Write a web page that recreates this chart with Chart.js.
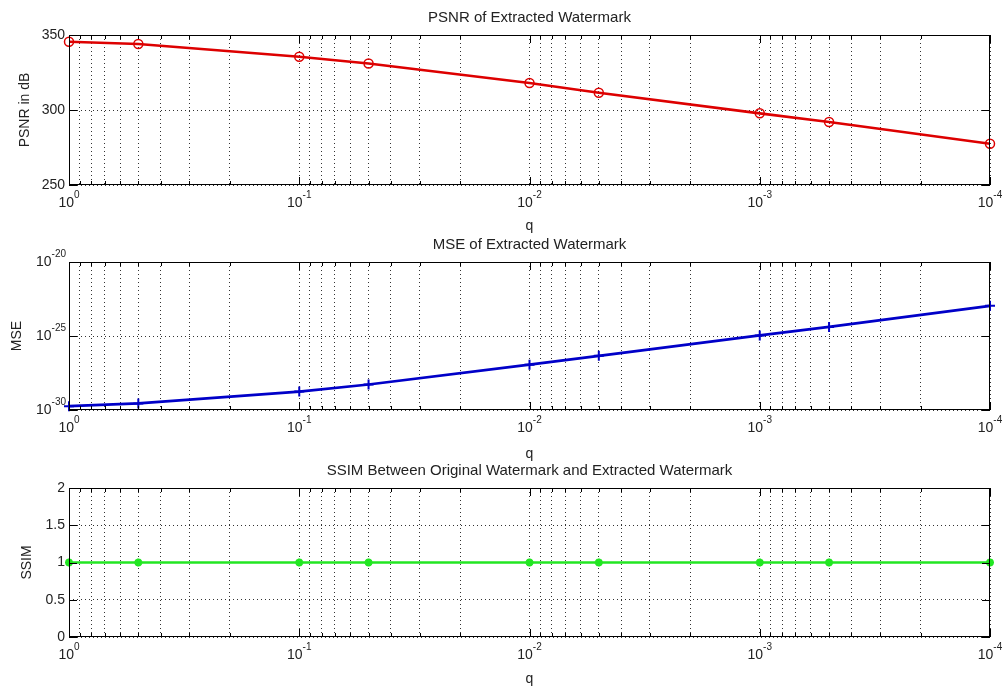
<!DOCTYPE html>
<html lang="en">
<head>
<meta charset="UTF-8">
<title>Watermark quality vs q</title>
<script src="https://cdn.jsdelivr.net/npm/chart.js"></script>
<style>
  body { margin: 0; background: #fff; }
  #wrap { position: relative; width: 1003px; height: 686px; }
  .panel { position: absolute; left: 0; width: 1003px; }
</style>
</head>
<body>
<div id="wrap">
  <div class="panel" style="top:0;height:235px"><canvas id="psnrChart"></canvas></div>
  <div class="panel" style="top:235px;height:228px"><canvas id="mseChart"></canvas></div>
  <div class="panel" style="top:463px;height:223px"><canvas id="ssimChart"></canvas></div>
</div>
<script>
// values
const qValues = [1, 0.5, 0.1, 0.05, 0.01, 0.005, 0.001, 0.0005, 0.0001];
const psnrValues = [345.5, 344, 335.5, 331, 318, 311.5, 297.8, 292, 277.5];
const mseValues = [1.8e-30, 2.8e-30, 1.75e-29, 5.3e-29, 1.15e-27, 4.6e-27, 1.1e-25, 4.1e-25, 1.1e-23];
const ssimValues = [1, 1, 1, 1, 1, 1, 1, 1, 1];
const xDecades = [0, -1, -2, -3, -4];      // q axis labelled 10^n
const mseDecades = [-30, -25, -20];        // MSE axis labelled 10^n

const FONT = 'Arial, "Liberation Sans", sans-serif';
const TEXT = '#222';
Chart.defaults.font.family = FONT;
Chart.defaults.color = TEXT;

// log ticks 1..9 x 10^n for the q axis (minor grid like matlab)
const xTicks = [];
xDecades.slice().sort((a, b) => a - b).forEach(e => {
  for (let m = 1; m <= 9; m++) {
    if (e === 0 && m > 1) break;
    xTicks.push({ value: Number((m * Math.pow(10, e)).toPrecision(3)), major: m === 1 });
  }
});

function drawPow(ctx, x, y, exp, align) {
  ctx.font = '14px ' + FONT;
  const wb = ctx.measureText('10').width;
  ctx.font = '10px ' + FONT;
  const we = ctx.measureText(String(exp)).width;
  const start = align === 'center' ? x - (wb + we) / 2 : x - wb - we;
  ctx.textAlign = 'left';
  ctx.textBaseline = 'middle';
  ctx.font = '14px ' + FONT;
  ctx.fillText('10', start, y);
  ctx.font = '10px ' + FONT;
  ctx.fillText(String(exp), start + wb, y - 8);
}

// box, inward ticks, title and power-of-ten labels
const matlabAxes = {
  id: 'matlabAxes',
  afterDraw(chart, args, opts) {
    const { ctx, chartArea: a, scales } = chart;
    ctx.save();
    ctx.strokeStyle = '#000';
    ctx.lineWidth = 1;
    ctx.strokeRect(a.left + 0.5, a.top + 0.5, a.width - 1, a.height - 1);
    ctx.beginPath();
    scales.x.ticks.forEach(t => {
      const px = Math.round(scales.x.getPixelForValue(t.value)) + 0.5;
      const len = t.major ? 8 : 4;
      ctx.moveTo(px, a.bottom); ctx.lineTo(px, a.bottom - len);
      ctx.moveTo(px, a.top); ctx.lineTo(px, a.top + len);
    });
    scales.y.ticks.forEach(t => {
      const py = Math.round(scales.y.getPixelForValue(t.value)) + 0.5;
      ctx.moveTo(a.left, py); ctx.lineTo(a.left + 8, py);
      ctx.moveTo(a.right, py); ctx.lineTo(a.right - 8, py);
    });
    ctx.stroke();

    ctx.fillStyle = TEXT;
    ctx.font = '15px ' + FONT;
    ctx.textAlign = 'center';
    ctx.textBaseline = 'middle';
    ctx.fillText(opts.title, (a.left + a.right) / 2, a.top - 17);

    xDecades.forEach(e => {
      drawPow(ctx, scales.x.getPixelForValue(Math.pow(10, e)), a.bottom + 18, e, 'center');
    });
    if (opts.logY) {
      mseDecades.forEach(e => {
        drawPow(ctx, a.left - 3, scales.y.getPixelForValue(Math.pow(10, e)), e, 'right');
      });
    }
    ctx.restore();
  }
};

function makeChart(id, cfg) {
  const yScale = cfg.yLog ? {
    type: 'logarithmic',
    min: 1e-30, max: 1e-20,
    afterBuildTicks: s => { s.ticks = mseDecades.map(e => ({ value: Math.pow(10, e), major: true })); },
    ticks: { display: false }
  } : {
    type: 'linear',
    min: cfg.yMin, max: cfg.yMax,
    ticks: { stepSize: cfg.yStep, padding: 4, font: { size: 14 }, color: TEXT, callback: v => String(v) }
  };
  Object.assign(yScale, {
    afterFit: s => { s.width = 69; },
    grid: { color: '#333', lineWidth: 1, drawTicks: false },
    border: { display: false, dash: [1, 3] },
    title: { display: true, text: cfg.yTitle, font: { size: 14 }, color: TEXT, padding: { top: cfg.yTitlePad } }
  });

  return new Chart(document.getElementById(id), {
    type: 'line',
    data: {
      datasets: [{
        data: qValues.map((q, i) => ({ x: q, y: cfg.values[i] })),
        borderColor: cfg.color,
        borderWidth: 2.7,
        pointStyle: cfg.marker,
        pointRadius: cfg.markerSize,
        pointBorderWidth: cfg.markerWidth,
        pointBorderColor: cfg.color,
        pointBackgroundColor: cfg.marker === 'circle' ? 'transparent' : cfg.color,
        tension: 0,
        clip: false
      }]
    },
    options: {
      responsive: true,
      maintainAspectRatio: false,
      animation: false,
      layout: { padding: { left: 0, right: 13, top: cfg.topPad, bottom: 0 } },
      plugins: {
        legend: { display: false },
        tooltip: { enabled: false },
        title: { display: false },
        matlabAxes: { logY: !!cfg.yLog, title: cfg.title }
      },
      scales: {
        x: {
          type: 'logarithmic',
          reverse: true,
          min: 1e-4, max: 1,
          afterBuildTicks: s => { s.ticks = xTicks.map(t => ({ ...t })); },
          afterFit: s => { s.height = cfg.xHeight; },
          ticks: { display: false, autoSkip: false },
          grid: { color: '#333', lineWidth: 1, drawTicks: false },
          border: { display: false, dash: [1, 3] },
          title: { display: true, text: 'q', font: { size: 14 }, color: TEXT, padding: { bottom: cfg.xTitlePad } }
        },
        y: yScale
      }
    },
    plugins: [matlabAxes]
  });
}

makeChart('psnrChart', {
  title: 'PSNR of Extracted Watermark', topPad: 35,
  values: psnrValues, color: '#dd0000', marker: 'circle', markerSize: 4.5, markerWidth: 1.5,
  yMin: 250, yMax: 350, yStep: 50, yTitle: 'PSNR in dB', yTitlePad: 17,
  xHeight: 50, xTitlePad: 0
});

makeChart('mseChart', {
  title: 'MSE of Extracted Watermark', topPad: 27,
  values: mseValues, color: '#0000c8', marker: 'cross', markerSize: 5, markerWidth: 2,
  yLog: true, yTitle: 'MSE', yTitlePad: 9,
  xHeight: 53, xTitlePad: 0
});

makeChart('ssimChart', {
  title: 'SSIM Between Original Watermark and Extracted Watermark', topPad: 25,
  values: ssimValues, color: '#22e622', marker: 'star', markerSize: 4, markerWidth: 2.5,
  yMin: 0, yMax: 2, yStep: 0.5, yTitle: 'SSIM', yTitlePad: 19,
  xHeight: 49, xTitlePad: -2
});
</script>
</body>
</html>
